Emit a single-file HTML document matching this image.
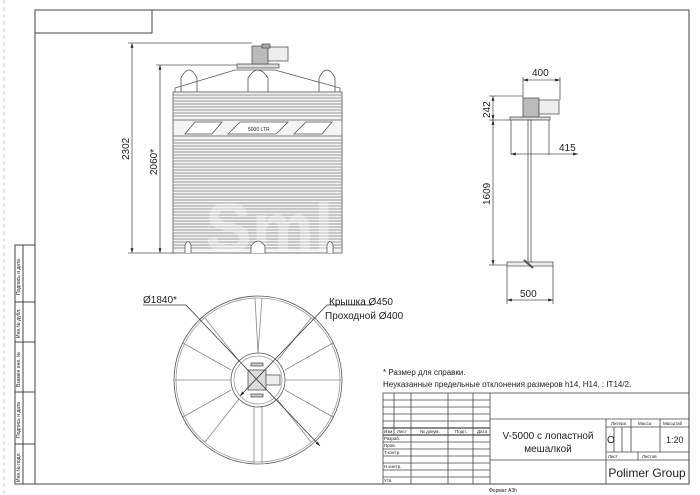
<!DOCTYPE html>
<html><head><meta charset="utf-8"><style>
body{margin:0;background:#fff}
svg{display:block}
text{font-family:"Liberation Sans","DejaVu Sans",sans-serif;fill:#222}
</style></head><body>
<svg width="700" height="495" viewBox="0 0 700 495" xmlns="http://www.w3.org/2000/svg">
<defs>
<marker id="a" viewBox="0 0 10 10" refX="10" refY="5" markerWidth="6" markerHeight="6" orient="auto-start-reverse"><path d="M0,2 L10,5 L0,8z" fill="#222"/></marker>
</defs>
<line x1="4" y1="0" x2="4" y2="495" stroke="#ccc" stroke-dasharray="4,3"/>
<rect x="35" y="10" width="654" height="474" fill="none" stroke="#444" stroke-width="1"/>
<rect x="35" y="10" width="117" height="23" fill="none" stroke="#444"/>
<g stroke="#444" fill="none">
<rect x="15" y="245" width="20" height="239"/>
<line x1="23" y1="245" x2="23" y2="484"/>
<line x1="15" y1="302" x2="35" y2="302"/>
<line x1="15" y1="342" x2="35" y2="342"/>
<line x1="15" y1="392" x2="35" y2="392"/>
<line x1="15" y1="444" x2="35" y2="444"/>
</g>
<g font-size="5">
<text transform="translate(20,295) rotate(-90)">Подпись и дата</text>
<text transform="translate(20,338) rotate(-90)">Инв.№ дубл.</text>
<text transform="translate(20,387) rotate(-90)">Взамен инв. №</text>
<text transform="translate(20,438) rotate(-90)">Подпись и дата</text>
<text transform="translate(20,482) rotate(-90)">Инв.№ подл.</text>
</g>

<!-- TANK FRONT -->
<g stroke="#555" fill="none" stroke-width="0.8">
<line x1="132" y1="43" x2="132" y2="253" marker-start="url(#a)" marker-end="url(#a)"/>
<line x1="128" y1="43" x2="252" y2="43"/>
<line x1="128" y1="253" x2="175" y2="253"/>
<line x1="160" y1="65" x2="160" y2="253" marker-start="url(#a)" marker-end="url(#a)"/>
<line x1="156" y1="65" x2="240" y2="65"/>
<path d="M175,92 L175,88 L235,70 L275,70 L340,88 L340,92"/>
<path d="M181,92 L181,78 Q189,62 197,78 L197,92"/>
<path d="M248,92 L248,78 Q258,62 268,78 L268,92"/>
<path d="M319,92 L319,78 Q327,62 335,78 L335,92"/>
<rect x="237" y="64" width="42" height="4" fill="#ddd"/>
<rect x="252" y="46" width="16" height="18" fill="#bbb"/>
<rect x="268" y="47" width="20" height="14" fill="#eee"/>
<rect x="262" y="44" width="8" height="4" fill="#aaa"/>
<rect x="173" y="92" width="169" height="161" fill="#f4f4f4"/>
</g>
<g stroke="#999" stroke-width="0.9">
<line x1="173" y1="95" x2="342" y2="95"/><line x1="173" y1="98" x2="342" y2="98"/><line x1="173" y1="101" x2="342" y2="101"/><line x1="173" y1="104" x2="342" y2="104"/><line x1="173" y1="107" x2="342" y2="107"/><line x1="173" y1="110" x2="342" y2="110"/><line x1="173" y1="113" x2="342" y2="113"/><line x1="173" y1="116" x2="342" y2="116"/>
<line x1="173" y1="140" x2="342" y2="140"/><line x1="173" y1="143" x2="342" y2="143"/><line x1="173" y1="146" x2="342" y2="146"/><line x1="173" y1="149" x2="342" y2="149"/><line x1="173" y1="152" x2="342" y2="152"/><line x1="173" y1="155" x2="342" y2="155"/><line x1="173" y1="158" x2="342" y2="158"/><line x1="173" y1="161" x2="342" y2="161"/><line x1="173" y1="164" x2="342" y2="164"/><line x1="173" y1="167" x2="342" y2="167"/><line x1="173" y1="170" x2="342" y2="170"/><line x1="173" y1="173" x2="342" y2="173"/><line x1="173" y1="176" x2="342" y2="176"/><line x1="173" y1="179" x2="342" y2="179"/><line x1="173" y1="182" x2="342" y2="182"/><line x1="173" y1="185" x2="342" y2="185"/><line x1="173" y1="188" x2="342" y2="188"/><line x1="173" y1="191" x2="342" y2="191"/><line x1="173" y1="194" x2="342" y2="194"/><line x1="173" y1="197" x2="342" y2="197"/><line x1="173" y1="200" x2="342" y2="200"/><line x1="173" y1="203" x2="342" y2="203"/><line x1="173" y1="206" x2="342" y2="206"/><line x1="173" y1="209" x2="342" y2="209"/><line x1="173" y1="212" x2="342" y2="212"/><line x1="173" y1="215" x2="342" y2="215"/><line x1="173" y1="218" x2="342" y2="218"/><line x1="173" y1="221" x2="342" y2="221"/><line x1="173" y1="224" x2="342" y2="224"/><line x1="173" y1="227" x2="342" y2="227"/><line x1="173" y1="230" x2="342" y2="230"/><line x1="173" y1="233" x2="342" y2="233"/><line x1="173" y1="236" x2="342" y2="236"/><line x1="173" y1="239" x2="342" y2="239"/><line x1="173" y1="242" x2="342" y2="242"/><line x1="173" y1="245" x2="342" y2="245"/><line x1="173" y1="248" x2="342" y2="248"/>
</g>
<text x="205" y="252" font-size="70" font-weight="bold" style="fill:#fff;opacity:0.35">Sml</text>
<g stroke="#555" fill="#fff" stroke-width="0.8">
<line x1="173" y1="120" x2="342" y2="120"/><line x1="173" y1="136" x2="342" y2="136"/>
<path d="M185,134 L195,122 L222,122 L212,134z"/>
<path d="M228,134 L240,122 L288,122 L276,134z"/>
<path d="M294,134 L306,122 L332,122 L322,134z"/>
<path d="M185,253 L185,245 Q188,238 191,245 L191,253"/>
<path d="M251,253 L251,246 Q258,236 265,246 L265,253"/>
<path d="M327,253 L327,245 Q330,238 333,245 L333,253"/>
</g>
<text x="248" y="131" font-size="5">5000 LTR</text>
<text transform="translate(129,160) rotate(-90)" font-size="10">2302</text>
<text transform="translate(157,175) rotate(-90)" font-size="10">2060*</text>

<!-- AGITATOR -->
<g stroke="#555" fill="none" stroke-width="0.8">
<line x1="523" y1="80" x2="560" y2="80" marker-start="url(#a)" marker-end="url(#a)"/>
<line x1="523" y1="77" x2="523" y2="98"/><line x1="560" y1="77" x2="560" y2="100"/>
<rect x="523" y="98" width="16" height="19" fill="#bbb"/>
<rect x="539" y="100" width="20" height="14" fill="#eee"/>
<rect x="510" y="117" width="40" height="3" fill="#ddd"/>
<path d="M511,120 L511,155 M549,120 L549,155"/>
<line x1="511" y1="154" x2="578" y2="154" marker-start="url(#a)" marker-end="url(#a)"/>
<rect x="528" y="120" width="3" height="142"/>
<path d="M507,262 L553,262 L553,266 L507,266z" fill="#eee"/>
<path d="M524,260 L533,268" stroke-width="2"/>
<line x1="493" y1="96" x2="493" y2="120" marker-start="url(#a)" marker-end="url(#a)"/>
<line x1="493" y1="120" x2="493" y2="265" marker-start="url(#a)" marker-end="url(#a)"/>
<line x1="489" y1="96" x2="523" y2="96"/><line x1="489" y1="120" x2="510" y2="120"/><line x1="489" y1="265" x2="507" y2="265"/>
<line x1="507" y1="266" x2="507" y2="304"/><line x1="553" y1="266" x2="553" y2="304"/>
<line x1="507" y1="300" x2="553" y2="300" marker-start="url(#a)" marker-end="url(#a)"/>
</g>
<text x="532" y="76" font-size="10">400</text>
<text x="559" y="151" font-size="10">415</text>
<text x="520" y="297" font-size="10">500</text>
<text transform="translate(490,118) rotate(-90)" font-size="10">242</text>
<text transform="translate(490,205) rotate(-90)" font-size="10">1609</text>

<!-- PLAN VIEW -->
<g stroke="#555" fill="none" stroke-width="0.8">
<circle cx="258" cy="380" r="84"/>
<circle cx="258" cy="380" r="82" stroke="#999"/>
<circle cx="258" cy="380" r="27"/>
<circle cx="258" cy="380" r="24" stroke="#999"/>
<g stroke="#888">
<line x1="258" y1="353" x2="255" y2="298"/><line x1="258" y1="353" x2="262" y2="298"/>
<line x1="277" y1="361" x2="311" y2="318"/><line x1="285" y1="370" x2="333" y2="343"/>
<line x1="285" y1="380" x2="341" y2="380"/><line x1="285" y1="390" x2="333" y2="417"/>
<line x1="277" y1="399" x2="311" y2="442"/><line x1="262" y1="407" x2="262" y2="463"/>
<line x1="254" y1="407" x2="254" y2="463"/><line x1="239" y1="399" x2="205" y2="442"/>
<line x1="231" y1="390" x2="183" y2="417"/><line x1="231" y1="380" x2="175" y2="380"/>
<line x1="231" y1="370" x2="183" y2="343"/><line x1="239" y1="361" x2="205" y2="318"/>
</g>
<rect x="248" y="370" width="18" height="20" fill="#ddd"/>
<rect x="266" y="375" width="14" height="10" fill="#eee"/>
<rect x="251" y="363" width="12" height="3" fill="#ccc"/><rect x="251" y="394" width="12" height="3" fill="#ccc"/>
<path d="M143,305 L186,305 L320,446" stroke="#333" marker-end="url(#a)"/>
<path d="M372,305 L327,305 L240,396" stroke="#333" marker-end="url(#a)"/>
</g>
<text x="143" y="303" font-size="10">Ø1840*</text>
<text x="329" y="305" font-size="10">Крышка Ø450</text>
<text x="325" y="319" font-size="10">Проходной Ø400</text>

<text x="383" y="375" font-size="8">* Размер для справки.</text>
<text x="383" y="387" font-size="8">Неуказанные предельные отклонения размеров h14, H14, : IT14/2.</text>

<!-- TITLE BLOCK -->
<g stroke="#444" fill="none" stroke-width="0.8">
<rect x="383" y="393" width="306" height="91"/>
<line x1="394" y1="393" x2="394" y2="435"/>
<line x1="411" y1="393" x2="411" y2="484"/>
<line x1="448" y1="393" x2="448" y2="484"/>
<line x1="473" y1="393" x2="473" y2="484"/>
<line x1="490" y1="393" x2="490" y2="484"/>
<line x1="383" y1="400" x2="490" y2="400"/><line x1="383" y1="407" x2="490" y2="407"/>
<line x1="383" y1="414" x2="490" y2="414"/><line x1="383" y1="421" x2="490" y2="421"/>
<line x1="383" y1="428" x2="490" y2="428" stroke-width="1.2"/><line x1="383" y1="435" x2="490" y2="435" stroke-width="1.2"/>
<line x1="383" y1="442" x2="490" y2="442"/><line x1="383" y1="449" x2="490" y2="449"/>
<line x1="383" y1="456" x2="490" y2="456"/><line x1="383" y1="463" x2="490" y2="463"/>
<line x1="383" y1="470" x2="490" y2="470"/><line x1="383" y1="477" x2="490" y2="477"/>
<line x1="490" y1="419" x2="689" y2="419"/>
<line x1="490" y1="460" x2="689" y2="460"/>
<line x1="606" y1="419" x2="606" y2="484"/>
<line x1="606" y1="427" x2="689" y2="427"/>
<line x1="606" y1="452" x2="689" y2="452"/>
<line x1="614" y1="427" x2="614" y2="452"/><line x1="622" y1="427" x2="622" y2="452"/>
<line x1="631" y1="419" x2="631" y2="452"/><line x1="660" y1="419" x2="660" y2="452"/>
<line x1="638" y1="452" x2="638" y2="460"/>
</g>
<g font-size="4.5">
<text x="384" y="433">Изм</text><text x="397" y="433">Лист</text><text x="420" y="433">№ докум.</text><text x="455" y="433">Подп.</text><text x="477" y="433">Дата</text>
<text x="384" y="440">Разраб.</text><text x="384" y="447">Пров.</text><text x="384" y="454">Т.контр.</text>
<text x="384" y="468">Н.контр.</text><text x="384" y="482">Утв.</text>
<text x="611" y="425">Литера</text><text x="638" y="425">Масса</text><text x="663" y="425">Масштаб</text>
<text x="608" y="458">Лист</text><text x="642" y="458">Листов</text>
</g>
<text x="548" y="439" font-size="10" text-anchor="middle">V-5000 с лопастной</text>
<text x="548" y="452" font-size="10" text-anchor="middle">мешалкой</text>
<text x="607" y="443" font-size="10">О</text>
<text x="666" y="443" font-size="9">1:20</text>
<text x="647" y="477" font-size="12" text-anchor="middle">Polimer Group</text>
<text x="489" y="492" font-size="5">Формат А3h</text>
</svg>
</body></html>
